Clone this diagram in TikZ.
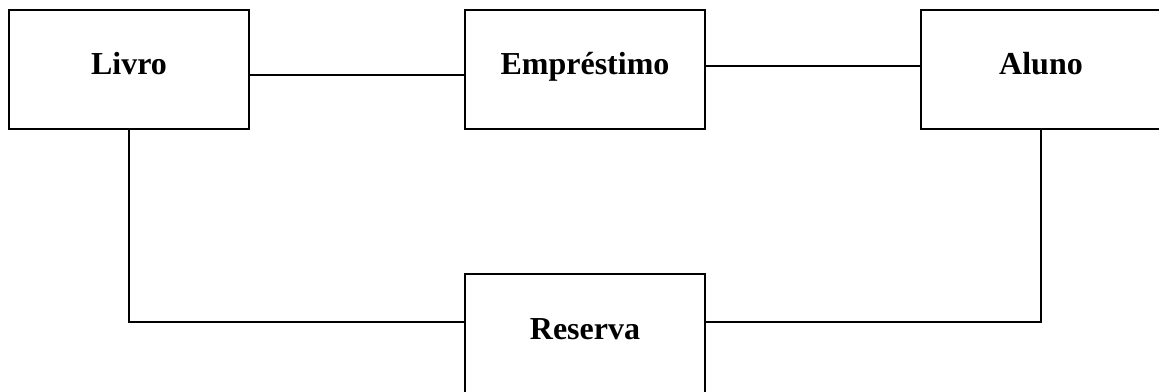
\documentclass[tikz,border=0pt]{standalone}
\usepackage{fontspec}
\setmainfont{Liberation Serif}
\begin{document}
\begin{tikzpicture}[x=1pt,y=-1pt,
  ent/.style={draw=black, line width=1.3pt, inner sep=0pt, minimum width=240pt,
    text height=64pt, text depth=55pt, align=center,
    font=\fontsize{32}{38}\selectfont\bfseries},
  conn/.style={draw=black, line width=1.3pt}]
\useasboundingbox (0,0) rectangle (1159,391);
\fill[white] (0,0) rectangle (1159,391);
\node[ent] (livro) at (129,69.5) {Livro};
\node[ent] (emp) at (585,69.5) {Empréstimo};
\node[ent] (aluno) at (1041,69.5) {Aluno};
\node[ent, text height=65pt, text depth=54pt] (res) at (585,333.5) {Reserva};
\draw[conn] ([yshift=-5.5pt]livro.east) -- ([yshift=-5.5pt]emp.west);
\draw[conn] ([yshift=3.5pt]emp.east) -- ([yshift=3.5pt]aluno.west);
\draw[conn] (livro.south) |- ([yshift=11.5pt]res.west);
\draw[conn] (aluno.south) |- ([yshift=11.5pt]res.east);
\end{tikzpicture}
\end{document}
